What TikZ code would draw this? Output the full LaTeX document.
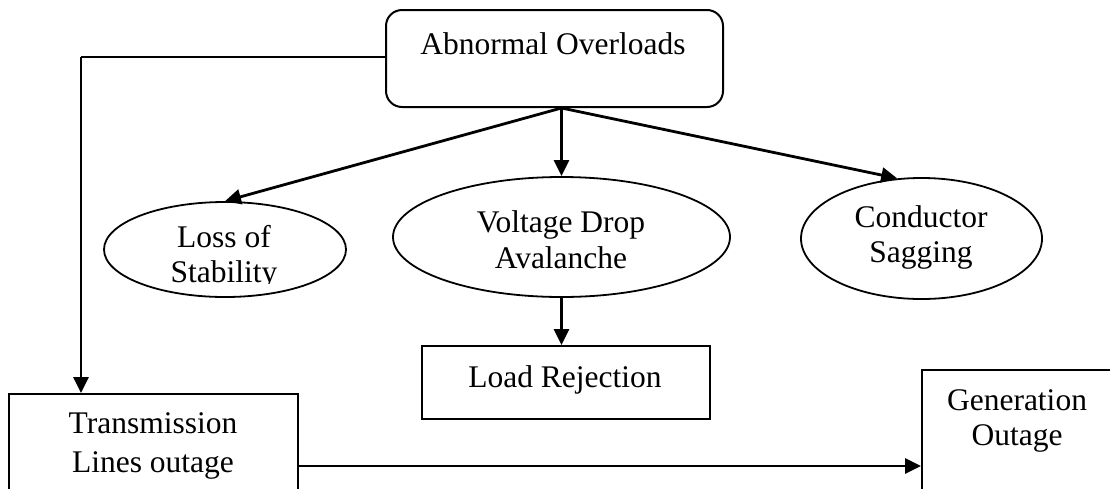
\documentclass[tikz,border=0pt]{standalone}
\usepackage{fontspec}
\setmainfont{Liberation Serif}
\usetikzlibrary{shapes.geometric,arrows.meta}
\begin{document}
\begin{tikzpicture}[x=1pt,y=-1pt,
  every node/.style={font=\fontsize{31.5}{36}\selectfont, inner sep=0pt},
  txt/.style={anchor=base},
  rbox/.style={draw, line width=2pt, rounded corners=16pt},
  sbox/.style={draw, line width=2pt},
  ell/.style={draw, ellipse, line width=1.8pt},
  conn/.style={line width=2.8pt, -{Triangle[length=16pt,width=15pt]}},
  plain/.style={line width=2.8pt}]
\useasboundingbox (0,0) rectangle (1110,488);
% shapes
\node[rbox, anchor=north west, minimum width=337pt, minimum height=97pt] (abn) at (385,9) {};
\node[ell, minimum width=242pt, minimum height=95pt] (loss) at (225,249.5) {};
\node[ell, minimum width=337pt, minimum height=120pt] (volt) at (561.5,237) {};
\node[ell, minimum width=241pt, minimum height=121pt] (cond) at (921.5,238.5) {};
\node[sbox, anchor=north west, minimum width=288pt, minimum height=73pt] (load) at (421,345) {};
\node[sbox, anchor=north west, minimum width=289pt, minimum height=130pt] (trans) at (8,393) {};
\node[sbox, anchor=north west, minimum width=220pt, minimum height=150pt] (gen) at (921,369) {};
% texts
\node[txt] (abnt) at (553,54) {Abnormal Overloads};
\begin{scope}
  \clip (100,190) rectangle (350,283);
  \node[txt] (loss1) at (224,247) {Loss of};
  \node[txt] (loss2) at (224,282) {Stability};
\end{scope}
\node[txt] (volt1) at (561,232) {Voltage Drop};
\node[txt] (volt2) at (561,268) {Avalanche};
\node[txt] (cond1) at (921,227) {Conductor};
\node[txt] (cond2) at (921,262) {Sagging};
\node[txt] (loadt) at (565,387) {Load Rejection};
\node[txt] (trans1) at (153,433) {Transmission};
\node[txt] (trans2) at (153,472) {Lines outage};
\node[txt] (gen1) at (1017,410) {Generation};
\node[txt] (gen2) at (1017,445) {Outage};
% connectors
\coordinate (src) at (volt.north |- abn.south);
\coordinate (lft) at (abn.west |- 0,57);
\coordinate (corner) at (81,57);
\draw[conn] (src) -- (volt.north);
\draw[conn] (src) -- (loss.north);
\draw[conn] (src) -- (cond.112);
\draw[conn] (volt.south) -- (load.north -| volt.south);
\draw[plain] (lft) -- (corner);
\draw[conn] (corner) -- (trans.north -| corner);
\draw[conn] (trans.east |- 0,466) -- (gen.west |- 0,466);
\end{tikzpicture}
\end{document}
